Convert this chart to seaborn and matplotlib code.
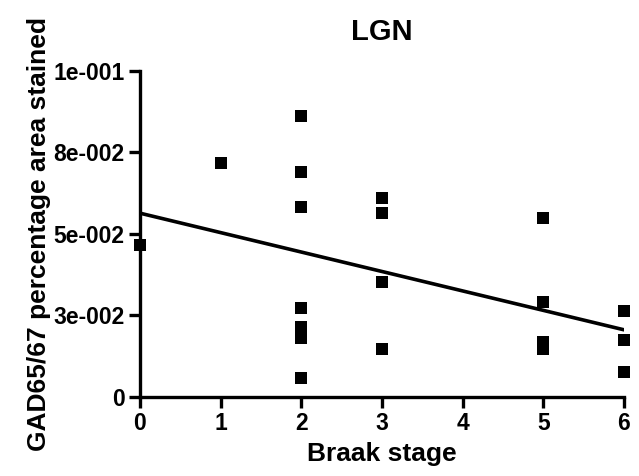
import matplotlib
matplotlib.use("Agg")
import matplotlib.pyplot as plt
import numpy as np
import pandas as pd
import seaborn as sns

# values
braak_stage = [0, 1, 2, 2, 2, 2, 2, 2, 2, 3, 3, 3, 3, 5, 5, 5, 5, 6, 6, 6]
gad_area = [0.0466, 0.0719, 0.0863, 0.0689, 0.0584, 0.0272, 0.0216, 0.0180, 0.0059,
            0.0611, 0.0565, 0.0354, 0.0147, 0.0550, 0.0292, 0.0170, 0.0146,
            0.0264, 0.0175, 0.0078]
y_ticks = [0, 0.025, 0.05, 0.075, 0.1]
y_tick_labels = ["0", "3e-002", "5e-002", "8e-002", "1e-001"]
x_ticks = [0, 1, 2, 3, 4, 5, 6]

df = pd.DataFrame({"stage": braak_stage, "area": gad_area})

sns.set_theme(style="ticks")
plt.rcParams["font.family"] = ["Liberation Sans", "DejaVu Sans"]
plt.rcParams["font.weight"] = "bold"
plt.rcParams["text.color"] = "black"
plt.rcParams["axes.labelcolor"] = "black"

fig = plt.figure(figsize=(6.39, 4.76), dpi=100)
ax = fig.add_axes([0.219, 0.166, 0.7575, 0.685])

sns.regplot(data=df, x="stage", y="area", ax=ax, ci=None, marker="s", color="black",
            scatter_kws={"s": 75, "clip_on": False, "linewidths": 0, "alpha": 1},
            line_kws={"lw": 2.6, "color": "black"})

ax.set_xlim(0, 6)
ax.set_ylim(0, 0.1)
ax.set_xticks(x_ticks)
ax.set_yticks(y_ticks)
ax.set_yticklabels(y_tick_labels)
ax.tick_params(width=2.4, length=8, labelsize=16.5, color="black", labelcolor="black")
ax.tick_params(axis="x", pad=3)
ax.tick_params(axis="y", pad=3)
for lab in ax.get_xticklabels() + ax.get_yticklabels():
    lab.set_fontweight("bold")
for side in ["top", "right"]:
    ax.spines[side].set_visible(False)
for side in ["left", "bottom"]:
    ax.spines[side].set_linewidth(2.4)
    ax.spines[side].set_color("black")

ax.set_xlabel("Braak stage", fontsize=19, fontweight="bold", labelpad=5)
ax.set_ylabel("GAD65/67 percentage area stained", fontsize=19, fontweight="bold", labelpad=2)
ax.set_title("LGN", fontsize=21, fontweight="bold", pad=22)

fig.savefig("out.png", dpi=100)
